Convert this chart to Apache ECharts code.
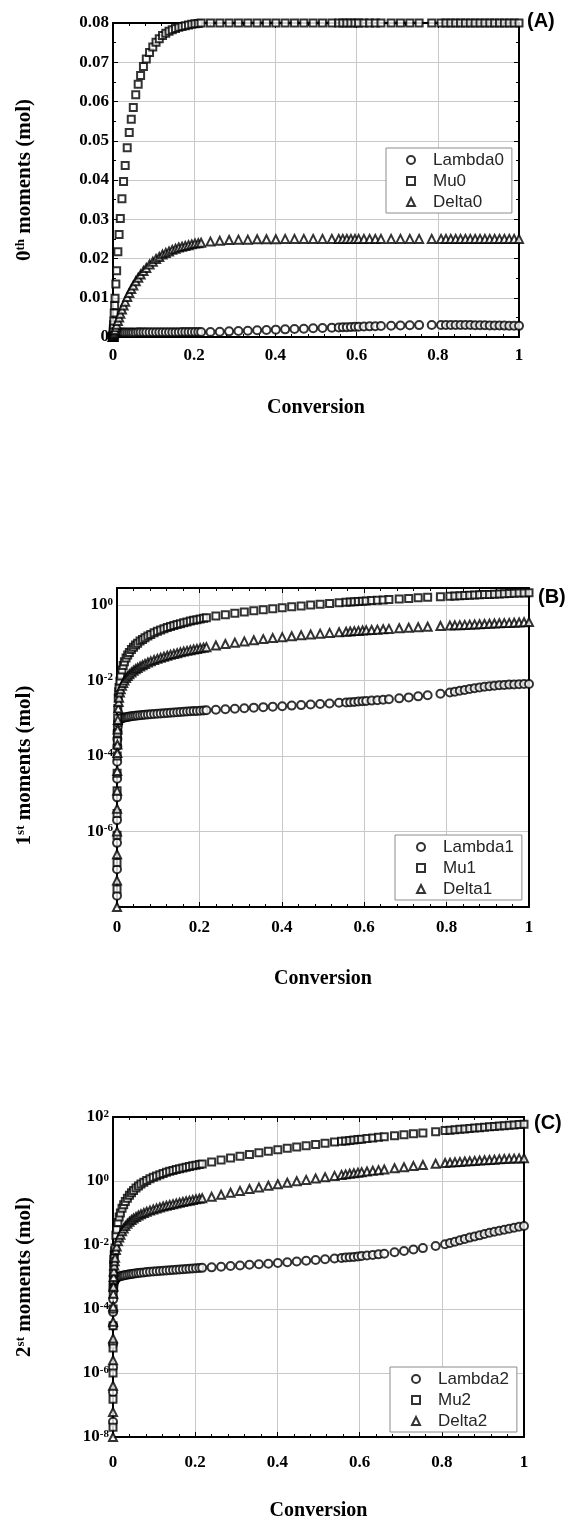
<!DOCTYPE html>
<html lang="en">
<head>
<meta charset="UTF-8">
<title>Moments vs conversion</title>
<script src="https://cdn.jsdelivr.net/npm/echarts@6/dist/echarts.min.js"></script>
<style>
  html, body { margin: 0; padding: 0; background: #fff; }
  #main { width: 572px; height: 1522px; }
</style>
</head>
<body>
<div id="main"></div>

<script type="text/javascript">
// conversion values shared by every curve (solver output steps)
var conversion = [0, 0.00002, 0.00005, 0.0001, 0.0002, 0.0003, 0.0005, 0.0008, 0.001, 0.0015, 0.002, 0.003, 0.004, 0.005,
    0.007, 0.009, 0.012, 0.015, 0.018, 0.022, 0.026, 0.03, 0.035, 0.04, 0.045, 0.05, 0.056, 0.062, 0.068, 0.075, 0.082,
    0.09, 0.098, 0.106, 0.114, 0.122, 0.13, 0.138, 0.146, 0.154, 0.162, 0.17, 0.178, 0.186, 0.194, 0.202, 0.21, 0.217,
    0.24, 0.263, 0.286, 0.309, 0.332, 0.355, 0.378, 0.401, 0.424, 0.447, 0.47, 0.493, 0.516, 0.539,
    0.556, 0.566, 0.576, 0.586, 0.596, 0.605,
    0.618, 0.632, 0.646, 0.66,
    0.685, 0.708, 0.731, 0.754, 0.785,
    0.808, 0.82, 0.832, 0.844, 0.856, 0.868, 0.88, 0.892, 0.904, 0.916, 0.928, 0.94, 0.952, 0.964, 0.976, 0.988, 1.0];

// (A) 0th moments
var lambda0 = [0, 0.00005, 0.0001, 0.00018, 0.0003, 0.0004, 0.0005, 0.0006, 0.0007, 0.0008, 0.0009, 0.001, 0.00105, 0.0011,
    0.00111, 0.00112, 0.00112, 0.00113, 0.00113, 0.00114, 0.00114, 0.00115, 0.00115, 0.00116, 0.00116, 0.00117, 0.00117,
    0.00118, 0.00118, 0.00119, 0.00119, 0.0012, 0.0012, 0.00121, 0.00121, 0.00122, 0.00122, 0.00123, 0.00123, 0.00124,
    0.00124, 0.00125, 0.00125, 0.00126, 0.00126, 0.00127, 0.00127, 0.00128,
    0.00127, 0.00136, 0.00144, 0.00153, 0.00161, 0.0017, 0.00178, 0.00187, 0.00195, 0.00204, 0.00212, 0.00221, 0.00229, 0.00238,
    0.00244, 0.00247, 0.00251, 0.00255, 0.00258, 0.00262,
    0.00266, 0.00271, 0.00276, 0.00281,
    0.00288, 0.00294, 0.00299, 0.00303, 0.00307,
    0.00308, 0.00308, 0.00308, 0.00307, 0.00306, 0.00305, 0.00304, 0.00302, 0.003, 0.00298, 0.00296, 0.00294, 0.00292,
    0.0029, 0.00288, 0.00286, 0.00284];
var mu0 = [0, 0.00004, 0.0001, 0.0002, 0.0004, 0.0006, 0.001, 0.0017, 0.0021, 0.0031, 0.0041, 0.0061, 0.008, 0.0099,
    0.0135, 0.0169, 0.0217, 0.0261, 0.0302, 0.0352, 0.0396, 0.0437, 0.0482, 0.0521, 0.0555, 0.0585, 0.0617, 0.0644,
    0.0666, 0.0689, 0.0708, 0.0725, 0.0739, 0.0751, 0.076, 0.0768, 0.0774, 0.0779, 0.0783, 0.0786, 0.0789, 0.0791,
    0.0793, 0.0795, 0.0797, 0.0798, 0.0799, 0.08,
    0.08, 0.08, 0.08, 0.08, 0.08, 0.08, 0.08, 0.08, 0.08, 0.08, 0.08, 0.08, 0.08, 0.08,
    0.08, 0.08, 0.08, 0.08, 0.08, 0.08,
    0.08, 0.08, 0.08, 0.08,
    0.08, 0.08, 0.08, 0.08, 0.08,
    0.08, 0.08, 0.08, 0.08, 0.08, 0.08, 0.08, 0.08, 0.08, 0.08, 0.08, 0.08, 0.08, 0.08, 0.08, 0.08, 0.08];
var delta0 = [0, 0.00001, 0.00002, 0.00004, 0.00007, 0.00011, 0.00019, 0.0003, 0.00037, 0.00055, 0.00074, 0.0011, 0.00145, 0.0018,
    0.00248, 0.00315, 0.0041, 0.005, 0.0059, 0.007, 0.008, 0.009, 0.0102, 0.0112, 0.0122, 0.0131, 0.0142, 0.0151,
    0.0159, 0.0168, 0.0176, 0.0185, 0.0192, 0.0199, 0.0204, 0.021, 0.0214, 0.0218, 0.0222, 0.0225, 0.0228, 0.023,
    0.0232, 0.0234, 0.0236, 0.0238, 0.0239, 0.024,
    0.0243, 0.0245, 0.0247, 0.0248, 0.0248, 0.0249, 0.0249, 0.0249, 0.025, 0.025, 0.025, 0.025, 0.025, 0.025,
    0.025, 0.025, 0.025, 0.025, 0.025, 0.025,
    0.025, 0.025, 0.025, 0.025,
    0.025, 0.025, 0.025, 0.025, 0.025,
    0.025, 0.025, 0.025, 0.025, 0.025, 0.025, 0.025, 0.025, 0.025, 0.025, 0.025, 0.025, 0.025, 0.025, 0.025, 0.025, 0.025];

// (B) 1st moments
var lambda1 = [2e-8, 1e-7, 5e-7, 2e-6, 8e-6, 2.5e-5, 7e-5, 1.8e-4, 2.8e-4, 4.5e-4, 6e-4, 7.5e-4, 8.5e-4, 9e-4,
    9.5e-4, 9.7e-4, 1.0e-3, 1.02e-3, 1.04e-3, 1.06e-3, 1.08e-3, 1.1e-3, 1.12e-3, 1.14e-3, 1.16e-3, 1.18e-3, 1.2e-3,
    1.22e-3, 1.24e-3, 1.26e-3, 1.28e-3, 1.3e-3, 1.32e-3, 1.34e-3, 1.36e-3, 1.38e-3, 1.4e-3, 1.42e-3, 1.44e-3, 1.46e-3,
    1.48e-3, 1.5e-3, 1.52e-3, 1.54e-3, 1.56e-3, 1.58e-3, 1.6e-3, 1.62e-3,
    1.67e-3, 1.72e-3, 1.78e-3, 1.84e-3, 1.9e-3, 1.96e-3, 2.02e-3, 2.08e-3, 2.15e-3, 2.22e-3, 2.3e-3, 2.38e-3, 2.46e-3, 2.55e-3,
    2.62e-3, 2.66e-3, 2.7e-3, 2.75e-3, 2.8e-3, 2.85e-3,
    2.92e-3, 3.0e-3, 3.08e-3, 3.17e-3,
    3.35e-3, 3.55e-3, 3.78e-3, 4.05e-3, 4.45e-3,
    4.8e-3, 5.0e-3, 5.3e-3, 5.6e-3, 5.9e-3, 6.2e-3, 6.5e-3, 6.8e-3, 7.0e-3, 7.25e-3, 7.45e-3, 7.6e-3, 7.75e-3,
    7.85e-3, 7.95e-3, 8.0e-3, 8.05e-3];
var mu1 = [3e-8, 1.5e-7, 8e-7, 3e-6, 1.2e-5, 3.5e-5, 1e-4, 2.5e-4, 4e-4, 1e-3, 1.8e-3, 3.5e-3, 5e-3, 6.5e-3,
    0.0095, 0.013, 0.019, 0.025, 0.031, 0.039, 0.047, 0.055, 0.066, 0.076, 0.087, 0.097, 0.11, 0.122, 0.135, 0.15,
    0.165, 0.182, 0.199, 0.216, 0.233, 0.25, 0.267, 0.285, 0.302, 0.319, 0.337, 0.354, 0.372, 0.389, 0.407, 0.424,
    0.442, 0.457,
    0.504, 0.552, 0.601, 0.649, 0.697, 0.746, 0.794, 0.842, 0.89, 0.939, 0.987, 1.035, 1.084, 1.132,
    1.168, 1.189, 1.21, 1.231, 1.252, 1.271,
    1.298, 1.327, 1.357, 1.386,
    1.439, 1.487, 1.535, 1.583, 1.649,
    1.697, 1.722, 1.747, 1.772, 1.798, 1.823, 1.848, 1.873, 1.898, 1.924, 1.949, 1.974, 1.999, 2.024, 2.05, 2.075, 2.1];
var delta1 = [1e-8, 5e-8, 2.5e-7, 1e-6, 4e-6, 1.2e-5, 4e-5, 1.2e-4, 2e-4, 5e-4, 9e-4, 1.8e-3, 2.7e-3, 3.5e-3,
    0.0048, 0.0058, 0.0072, 0.0086, 0.0099, 0.0115, 0.013, 0.0145, 0.0163, 0.018, 0.0197, 0.0214, 0.0234, 0.0254,
    0.0274, 0.0297, 0.032, 0.0346, 0.0372, 0.0398, 0.0424, 0.045, 0.0476, 0.0502, 0.0528, 0.0554, 0.058, 0.0606,
    0.0632, 0.0658, 0.0684, 0.071, 0.0736, 0.0759,
    0.084, 0.092, 0.1, 0.108, 0.116, 0.124, 0.132, 0.14, 0.148, 0.156, 0.165, 0.173, 0.181, 0.189,
    0.195, 0.198, 0.202, 0.205, 0.209, 0.212,
    0.216, 0.221, 0.226, 0.231,
    0.24, 0.248, 0.256, 0.264, 0.275,
    0.283, 0.287, 0.291, 0.295, 0.3, 0.304, 0.308, 0.312, 0.316, 0.321, 0.325, 0.329, 0.333, 0.337, 0.342, 0.346, 0.35];

// (C) 2nd moments
var lambda2 = [3e-8, 2.5e-7, 1.5e-6, 8e-6, 3e-5, 8e-5, 2e-4, 4e-4, 5e-4, 6e-4, 6.8e-4, 7.4e-4, 7.8e-4, 8e-4,
    9e-4, 9.5e-4, 1.0e-3, 1.03e-3, 1.06e-3, 1.09e-3, 1.12e-3, 1.15e-3, 1.18e-3, 1.21e-3, 1.24e-3, 1.27e-3, 1.3e-3,
    1.33e-3, 1.36e-3, 1.39e-3, 1.42e-3, 1.45e-3, 1.48e-3, 1.51e-3, 1.54e-3, 1.57e-3, 1.6e-3, 1.63e-3, 1.66e-3, 1.69e-3,
    1.72e-3, 1.75e-3, 1.78e-3, 1.81e-3, 1.84e-3, 1.87e-3, 1.9e-3, 1.93e-3,
    2.0e-3, 2.1e-3, 2.2e-3, 2.3e-3, 2.4e-3, 2.5e-3, 2.6e-3, 2.75e-3, 2.9e-3, 3.05e-3, 3.2e-3, 3.4e-3, 3.6e-3, 3.8e-3,
    3.95e-3, 4.05e-3, 4.15e-3, 4.25e-3, 4.4e-3, 4.5e-3,
    4.7e-3, 4.9e-3, 5.1e-3, 5.35e-3,
    5.9e-3, 6.5e-3, 7.2e-3, 8.0e-3, 9.3e-3,
    0.0105, 0.0115, 0.0127, 0.014, 0.0155, 0.017, 0.0185, 0.02, 0.022, 0.024, 0.026, 0.028, 0.03, 0.032, 0.0345, 0.037, 0.039];
var mu2 = [2e-8, 1.5e-7, 1e-6, 6e-6, 3e-5, 1e-4, 3e-4, 8e-4, 1.3e-3, 2.5e-3, 3.5e-3, 5e-3, 6.5e-3, 8e-3,
    0.02, 0.03, 0.05, 0.075, 0.1, 0.14, 0.18, 0.23, 0.29, 0.36, 0.43, 0.5, 0.6, 0.7, 0.8, 0.92, 1.04, 1.17, 1.3,
    1.44, 1.58, 1.72, 1.86, 2.0, 2.14, 2.28, 2.42, 2.56, 2.7, 2.84, 2.98, 3.12, 3.26, 3.4,
    3.9, 4.5, 5.2, 5.9, 6.7, 7.6, 8.5, 9.5, 10.5, 11.6, 12.7, 13.9, 15.1, 16.4,
    17.3, 17.9, 18.5, 19.1, 19.7, 20.3,
    21.2, 22.1, 23.1, 24.1,
    26.0, 27.8, 29.7, 31.7, 34.5,
    37.5, 38.7, 39.9, 41.1, 42.4, 43.7, 45.0, 46.3, 47.7, 49.1, 50.5, 52.0, 53.5, 55.0, 56.6, 58.2, 59.8];
var delta2 = [1e-8, 6e-8, 4e-7, 2.5e-6, 1.2e-5, 4e-5, 1.2e-4, 3e-4, 5e-4, 1e-3, 1.5e-3, 2.3e-3, 3.1e-3, 4e-3,
    0.007, 0.009, 0.013, 0.017, 0.021, 0.027, 0.033, 0.039, 0.046, 0.053, 0.06, 0.067, 0.075, 0.083, 0.091, 0.1,
    0.109, 0.119, 0.129, 0.139, 0.149, 0.159, 0.169, 0.179, 0.189, 0.199, 0.21, 0.221, 0.232, 0.243, 0.255, 0.267,
    0.279, 0.29,
    0.32, 0.37, 0.43, 0.49, 0.56, 0.63, 0.71, 0.79, 0.88, 0.98, 1.08, 1.19, 1.31, 1.44,
    1.55, 1.61, 1.68, 1.75, 1.82, 1.89,
    1.98, 2.08, 2.18, 2.29,
    2.5, 2.7, 2.92, 3.15, 3.45,
    3.65, 3.75, 3.85, 3.95, 4.05, 4.15, 4.25, 4.35, 4.45, 4.55, 4.65, 4.75, 4.85, 4.92, 5.0, 5.07, 5.15];

var serif = '"Liberation Serif", "Times New Roman", serif';
var sans = '"Liberation Sans", Arial, sans-serif';
var gridGray = '#c8c8c8';

var myChart = echarts.init(document.getElementById('main'));

function pairs(ys) {
    return conversion.map(function (x, i) { return [x, ys[i]]; });
}

// 10^n labels on the log axes, only every second decade
function powLabel(hideMin) {
    return function (v) {
        var e = Math.log10(v), r = Math.round(e);
        if (Math.abs(e - r) > 0.01 || r % 2 !== 0) return '';
        if (hideMin && r === -8) return '';
        return '10{sup|' + r + '}';
    };
}

var supStyle = {fontFamily: serif, fontWeight: 'bold', fontSize: 11, color: '#000', verticalAlign: 'top', lineHeight: 11};
var nameSup = {fontFamily: serif, fontWeight: 'bold', fontSize: 13, color: '#000', verticalAlign: 'top', lineHeight: 13};
var boxLine = {show: true, onZero: false, lineStyle: {color: '#000', width: 2}};
var tickStyle = {color: '#000', width: 1};

function xAxes(gi, labelMargin, nameGap) {
    var bottom = {
        type: 'value', gridIndex: gi, position: 'bottom', min: 0, max: 1, interval: 0.2,
        name: 'Conversion', nameLocation: 'middle', nameGap: nameGap,
        nameTextStyle: {fontFamily: serif, fontWeight: 'bold', fontSize: 20, color: '#000'},
        axisLine: boxLine,
        axisTick: {inside: true, length: 5, lineStyle: tickStyle},
        minorTick: {show: true, splitNumber: 5, length: 3, lineStyle: tickStyle},
        axisLabel: {margin: labelMargin, fontFamily: serif, fontWeight: 'bold', fontSize: 17, color: '#000'},
        splitLine: {show: true, lineStyle: {color: gridGray, width: 1}}
    };
    var top = {
        type: 'value', gridIndex: gi, position: 'top', min: 0, max: 1, interval: 0.2,
        axisLine: boxLine,
        axisTick: {inside: true, length: 5, lineStyle: tickStyle},
        minorTick: {show: true, splitNumber: 5, length: 3, lineStyle: tickStyle},
        axisLabel: {show: false},
        splitLine: {show: false}
    };
    return [bottom, top];
}

function yName(text, gap, pad) {
    return {
        name: text, nameLocation: 'middle', nameGap: gap, nameRotate: 90,
        nameTextStyle: {
            fontFamily: serif, fontWeight: 'bold', fontSize: 21, color: '#000', padding: pad,
            rich: {sup: nameSup}
        }
    };
}

var yAxisA = Object.assign({
    type: 'value', gridIndex: 0, min: 0, max: 0.08, interval: 0.01,
    axisLine: boxLine,
    axisTick: {inside: true, length: 5, lineStyle: tickStyle},
    minorTick: {show: true, splitNumber: 2, length: 3, lineStyle: tickStyle},
    axisLabel: {margin: 4, fontFamily: serif, fontWeight: 'bold', fontSize: 17, color: '#000'},
    splitLine: {show: true, lineStyle: {color: gridGray, width: 1}}
}, yName('0{sup|th} moments (mol)', 78, [0, 0, 0, 0]));

// log axes: a max just under a whole decade keeps the tick step at one decade
function logY(gi, maxVal, hideMin, name, gap, pad) {
    return Object.assign({
        type: 'log', logBase: 10, gridIndex: gi, min: 1e-8, max: maxVal,
        axisLine: boxLine,
        axisTick: {show: false},
        axisLabel: {
            margin: 4, fontFamily: serif, fontWeight: 'bold', fontSize: 17, color: '#000',
            formatter: powLabel(hideMin), rich: {sup: supStyle}
        },
        splitLine: {show: true, lineStyle: {color: [gridGray, 'rgba(0,0,0,0)'], width: 1}}
    }, yName(name, gap, pad));
}

function rightY(gi, type, min, max, interval) {
    var ax = {
        type: type, gridIndex: gi, position: 'right', min: min, max: max,
        axisLine: boxLine,
        axisTick: {show: type === 'value', inside: true, length: 5, lineStyle: tickStyle},
        axisLabel: {show: false},
        splitLine: {show: false}
    };
    if (interval) ax.interval = interval;
    if (type === 'value') ax.minorTick = {show: true, splitNumber: 2, length: 3, lineStyle: tickStyle};
    return ax;
}

function scatter(name, ys, gi, symbol, size) {
    return {
        name: name, type: 'scatter', xAxisIndex: gi * 2, yAxisIndex: gi * 2,
        data: pairs(ys), symbol: symbol, symbolSize: size, clip: false,
        itemStyle: {color: '#000', borderColor: '#000', borderWidth: 1.9},
        emphasis: {disabled: true}
    };
}

function legendBox(names, left, top, padLeft) {
    return {
        data: names, orient: 'vertical', left: left, top: top,
        backgroundColor: '#fff', borderColor: '#8c8c8c', borderWidth: 1,
        padding: [3, 8, 2, padLeft],
        itemWidth: 8, itemHeight: 8, itemGap: 3,
        textStyle: {fontFamily: sans, fontSize: 17, color: '#262626', lineHeight: 18, padding: [0, 0, 0, 13]},
        selectedMode: false
    };
}

function panelTag(text, left, top) {
    return {
        text: text, left: left, top: top, padding: 0,
        textStyle: {fontFamily: sans, fontWeight: 'bold', fontSize: 20, color: '#000'}
    };
}

option = {
    animation: false,
    backgroundColor: '#fff',
    title: [panelTag('(A)', 527, 11), panelTag('(B)', 538, 587), panelTag('(C)', 534, 1113)],
    grid: [
        {left: 113, top: 23, width: 406, height: 314},
        {left: 117, top: 588, width: 412, height: 319},
        {left: 113, top: 1117, width: 411, height: 322}
    ],
    xAxis: [].concat(xAxes(0, 10, 61), xAxes(1, 12, 62), xAxes(2, 17, 64)),
    yAxis: [
        yAxisA,
        rightY(0, 'value', 0, 0.08, 0.01),
        logY(1, 2.8, true, '1{sup|st} moments (mol)', 82, [0, 36, 0, 0]),
        rightY(1, 'log', 1e-8, 2.8),
        logY(2, 99.9, false, '2{sup|st} moments (mol)', 78, [0, 0, 0, 0]),
        rightY(2, 'log', 1e-8, 99.9)
    ],
    legend: [
        legendBox(['Lambda0', 'Mu0', 'Delta0'], 386, 148, 20),
        legendBox(['Lambda1', 'Mu1', 'Delta1'], 395, 835, 21),
        legendBox(['Lambda2', 'Mu2', 'Delta2'], 390, 1367, 21)
    ],
    series: [
        scatter('Lambda0', lambda0, 0, 'emptyCircle', 8),
        scatter('Mu0', mu0, 0, 'emptyRect', 7),
        scatter('Delta0', delta0, 0, 'emptyTriangle', 8),
        scatter('Lambda1', lambda1, 1, 'emptyCircle', 8),
        scatter('Mu1', mu1, 1, 'emptyRect', 7),
        scatter('Delta1', delta1, 1, 'emptyTriangle', 8),
        scatter('Lambda2', lambda2, 2, 'emptyCircle', 8),
        scatter('Mu2', mu2, 2, 'emptyRect', 7),
        scatter('Delta2', delta2, 2, 'emptyTriangle', 8)
    ]
};

myChart.setOption(option);
</script>
</body>
</html>
